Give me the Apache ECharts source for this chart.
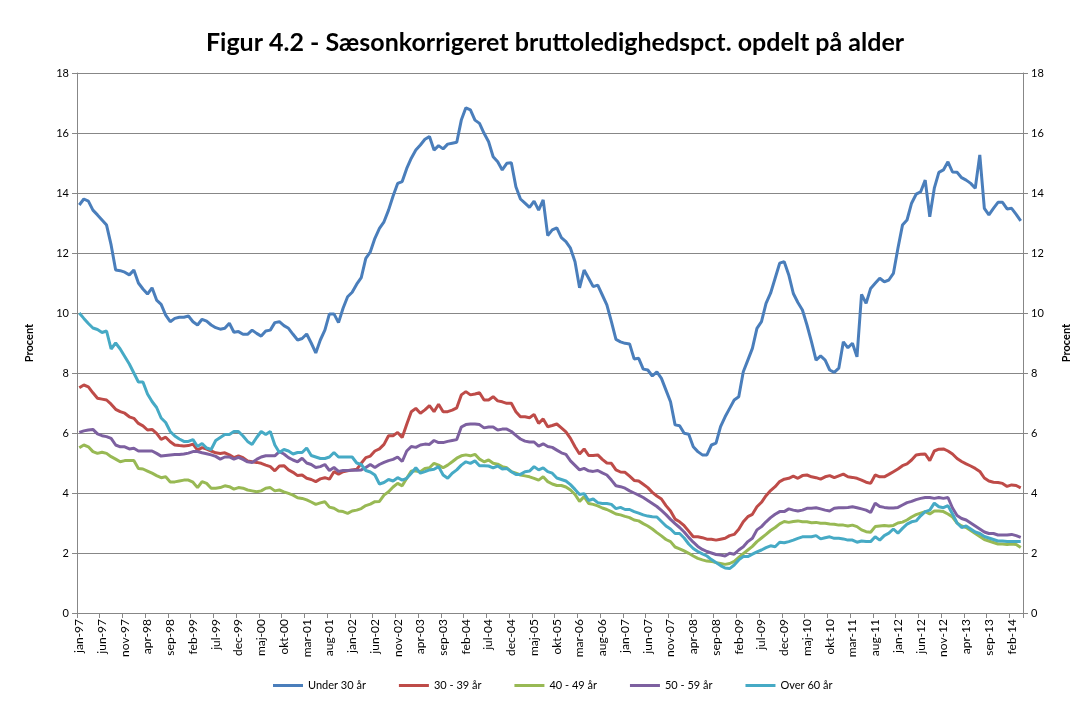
<!DOCTYPE html>
<html><head><meta charset="utf-8">
<script src="https://cdn.jsdelivr.net/npm/echarts@6/dist/echarts.min.js"></script>
<style>html,body{margin:0;padding:0;background:#fff}#c{width:1080px;height:702px}</style>
</head><body><div id="c"></div>
<script>
const monthNames = ['jan','feb','mar','apr','maj','jun','jul','aug','sep','okt','nov','dec'];
const startYear = 1997;
const nMonths = 208;
const yTicks = [0,2,4,6,8,10,12,14,16,18];
const seriesNames = ['Under 30 år','30 - 39 år','40 - 49 år','50 - 59 år','Over 60 år'];

const under30 = [
13.6,13.8,13.73,13.43,13.27,13.1,12.93,12.27,11.43,11.41,11.36,11.27,11.43,11.0,10.8,10.63,10.84,10.43,
10.29,9.93,9.71,9.82,9.86,9.86,9.9,9.71,9.6,9.79,9.73,9.6,9.51,9.46,9.49,9.66,9.36,
9.38,9.29,9.29,9.43,9.32,9.23,9.4,9.43,9.68,9.71,9.58,9.49,9.29,9.1,9.15,9.3,
9.0,8.67,9.1,9.43,9.97,9.97,9.68,10.16,10.54,10.69,10.96,11.18,11.82,12.04,12.49,12.82,13.04,13.43,13.9,
14.32,14.38,14.82,15.16,15.43,15.6,15.79,15.88,15.43,15.58,15.47,15.63,15.66,15.69,16.43,16.84,16.77,16.43,
16.32,15.99,15.71,15.21,15.04,14.77,14.99,15.01,14.21,13.8,13.66,13.52,13.73,13.43,13.77,12.58,12.77,
12.84,12.51,12.38,12.16,11.71,10.84,11.43,11.16,10.88,10.93,10.6,10.27,9.71,9.12,9.04,8.99,8.97,8.47,
8.49,8.13,8.1,7.9,8.04,7.82,7.43,7.04,6.27,6.24,5.99,5.96,5.54,5.38,5.27,5.27,5.6,5.66,
6.21,6.54,6.82,7.1,7.21,8.04,8.43,8.82,9.49,9.71,10.32,10.66,11.16,11.66,11.71,11.27,10.65,
10.35,10.1,9.6,9.04,8.43,8.57,8.43,8.1,8.02,8.16,9.04,8.84,8.99,8.54,10.62,10.32,10.82,10.99,
11.16,11.04,11.1,11.32,12.16,12.93,13.1,13.66,13.96,14.04,14.43,13.21,14.16,14.69,14.77,15.04,
14.7,14.69,14.51,14.43,14.32,14.16,15.27,13.49,13.27,13.49,13.69,13.69,13.47,13.49,13.29,13.07];

const age30_39 = [
7.51,7.6,7.54,7.34,7.16,7.13,7.1,6.96,6.79,6.71,6.66,6.54,6.49,6.32,6.24,6.1,6.12,5.99,
5.79,5.86,5.71,5.6,5.58,5.57,5.58,5.63,5.43,5.51,5.46,5.4,5.34,5.32,5.34,5.27,5.18,
5.24,5.18,5.07,5.04,5.02,4.99,4.93,4.88,4.74,4.9,4.91,4.77,4.69,4.58,4.6,4.49,
4.45,4.38,4.47,4.51,4.46,4.71,4.63,4.71,4.74,4.77,4.79,4.99,5.18,5.23,5.4,5.47,5.62,5.91,5.91,
6.02,5.85,6.29,6.71,6.82,6.66,6.77,6.91,6.71,6.96,6.71,6.71,6.76,6.84,7.27,7.38,7.27,7.3,
7.34,7.1,7.1,7.21,7.07,7.04,6.99,6.99,6.71,6.54,6.54,6.51,6.62,6.32,6.47,6.21,6.25,
6.3,6.17,6.04,5.82,5.54,5.3,5.47,5.25,5.25,5.27,5.12,5.0,4.99,4.77,4.7,4.69,4.56,4.42,
4.4,4.29,4.18,4.02,3.9,3.8,3.58,3.4,3.13,3.04,2.91,2.73,2.54,2.54,2.51,2.46,2.46,2.43,
2.46,2.49,2.58,2.62,2.79,3.04,3.21,3.29,3.54,3.69,3.91,4.08,4.21,4.38,4.46,4.49,4.56,
4.49,4.58,4.6,4.54,4.51,4.46,4.54,4.58,4.51,4.57,4.63,4.54,4.52,4.49,4.43,4.36,4.32,4.6,
4.54,4.54,4.62,4.71,4.8,4.91,4.97,5.1,5.27,5.29,5.3,5.08,5.4,5.46,5.47,5.4,
5.3,5.15,5.05,4.97,4.9,4.82,4.72,4.5,4.4,4.36,4.35,4.32,4.22,4.27,4.25,4.17];

const age40_49 = [
5.51,5.6,5.54,5.38,5.32,5.36,5.32,5.21,5.13,5.04,5.08,5.08,5.08,4.82,4.8,4.73,4.66,4.58,
4.51,4.54,4.37,4.37,4.4,4.43,4.43,4.36,4.18,4.38,4.32,4.16,4.16,4.18,4.24,4.21,4.13,
4.18,4.16,4.1,4.07,4.04,4.07,4.16,4.18,4.07,4.1,4.04,3.99,3.93,3.84,3.82,3.77,
3.7,3.62,3.67,3.71,3.53,3.49,3.4,3.38,3.32,3.4,3.43,3.48,3.58,3.63,3.71,3.72,3.93,4.04,4.2,
4.32,4.24,4.49,4.73,4.73,4.71,4.82,4.84,4.99,4.93,4.84,4.93,5.04,5.16,5.24,5.27,5.24,5.29,
5.13,5.04,5.1,4.99,4.96,4.88,4.84,4.71,4.66,4.6,4.57,4.54,4.49,4.43,4.54,4.38,4.3,
4.25,4.25,4.2,4.1,3.95,3.72,3.88,3.65,3.62,3.57,3.5,3.45,3.38,3.3,3.27,3.22,3.18,3.1,
3.07,2.98,2.9,2.8,2.68,2.57,2.45,2.38,2.2,2.14,2.07,1.99,1.9,1.82,1.77,1.73,1.72,1.68,
1.65,1.62,1.65,1.72,1.85,1.98,2.1,2.22,2.38,2.5,2.62,2.75,2.85,2.97,3.05,3.02,3.05,
3.07,3.04,3.04,3.01,3.02,2.99,2.99,2.97,2.96,2.93,2.93,2.9,2.93,2.88,2.77,2.71,2.69,2.88,
2.9,2.92,2.9,2.92,3.0,3.03,3.1,3.2,3.28,3.33,3.38,3.3,3.4,3.4,3.38,3.3,
3.2,3.0,2.9,2.85,2.75,2.65,2.55,2.45,2.4,2.35,2.3,2.3,2.28,2.3,2.28,2.18];

const age50_59 = [
6.02,6.07,6.1,6.12,5.97,5.91,5.88,5.82,5.6,5.54,5.54,5.47,5.49,5.4,5.4,5.4,5.4,5.32,
5.23,5.25,5.27,5.28,5.28,5.3,5.33,5.38,5.38,5.34,5.31,5.27,5.22,5.13,5.2,5.2,5.13,
5.19,5.12,5.04,5.02,5.12,5.2,5.24,5.24,5.24,5.38,5.3,5.18,5.1,5.04,5.16,5.0,
4.95,4.85,4.88,4.95,4.75,4.85,4.72,4.75,4.75,4.76,4.76,4.77,4.85,4.95,4.85,4.95,5.02,5.08,5.12,
5.2,5.05,5.4,5.55,5.52,5.6,5.63,5.62,5.75,5.68,5.68,5.72,5.75,5.78,6.2,6.28,6.3,6.3,
6.28,6.17,6.2,6.2,6.1,6.13,6.13,6.05,5.92,5.8,5.73,5.7,5.7,5.56,5.64,5.55,5.52,
5.43,5.34,5.29,5.07,4.92,4.77,4.82,4.74,4.72,4.75,4.67,4.6,4.43,4.24,4.21,4.16,4.07,4.0,
3.93,3.85,3.75,3.65,3.55,3.42,3.28,3.12,2.98,2.85,2.7,2.52,2.36,2.22,2.12,2.05,2.0,1.95,
1.93,1.9,1.99,1.96,2.1,2.21,2.38,2.49,2.77,2.88,3.04,3.18,3.29,3.38,3.38,3.47,3.43,
3.4,3.43,3.49,3.49,3.51,3.47,3.43,3.4,3.49,3.51,3.51,3.52,3.54,3.51,3.47,3.43,3.35,3.66,
3.55,3.52,3.5,3.5,3.52,3.6,3.68,3.72,3.78,3.82,3.85,3.85,3.82,3.85,3.82,3.85,
3.5,3.25,3.15,3.1,3.0,2.9,2.8,2.7,2.65,2.65,2.6,2.6,2.6,2.62,2.58,2.52];

const over60 = [
10.0,9.82,9.65,9.5,9.45,9.35,9.4,8.8,9.0,8.8,8.55,8.3,8.0,7.7,7.7,7.3,7.05,6.85,
6.5,6.35,6.05,5.9,5.8,5.72,5.72,5.78,5.55,5.65,5.5,5.45,5.75,5.85,5.95,5.95,6.05,
6.05,5.9,5.72,5.62,5.85,6.05,5.95,6.05,5.6,5.35,5.45,5.4,5.3,5.35,5.35,5.5,5.25,
5.2,5.15,5.15,5.2,5.35,5.2,5.2,5.2,5.2,5.0,4.95,4.75,4.7,4.6,4.3,4.35,4.45,4.4,
4.51,4.43,4.49,4.66,4.84,4.66,4.71,4.77,4.79,4.88,4.6,4.49,4.66,4.77,4.93,5.04,4.99,5.07,
4.91,4.91,4.9,4.84,4.9,4.8,4.82,4.71,4.62,4.62,4.71,4.73,4.88,4.77,4.84,4.71,4.66,
4.5,4.45,4.4,4.28,4.12,3.95,3.98,3.75,3.8,3.68,3.65,3.65,3.62,3.48,3.52,3.45,3.45,3.38,
3.33,3.27,3.23,3.21,3.2,3.05,2.9,2.8,2.65,2.65,2.5,2.3,2.15,2.05,1.97,1.9,1.78,1.68,
1.58,1.5,1.48,1.6,1.77,1.88,1.88,1.96,2.04,2.1,2.18,2.24,2.21,2.36,2.34,2.38,2.43,
2.49,2.54,2.54,2.54,2.58,2.47,2.51,2.54,2.49,2.49,2.47,2.43,2.43,2.36,2.4,2.38,2.38,2.54,
2.43,2.58,2.66,2.8,2.66,2.82,2.96,3.04,3.07,3.24,3.38,3.43,3.66,3.54,3.51,3.58,
3.3,3.0,2.85,2.9,2.8,2.7,2.65,2.55,2.5,2.45,2.4,2.4,2.38,2.38,2.38,2.38];

const categories = [];
for (let i = 0; i < nMonths; i++) {
  const y = (startYear + Math.floor(i / 12)) % 100;
  categories.push(monthNames[i % 12] + '-' + (y < 10 ? '0' + y : '' + y));
}

const colors = ['#4A7EBB', '#BE4B48', '#98B954', '#7D60A0', '#46AAC5'];
const values = [under30, age30_39, age40_49, age50_59, over60];
const FONT = 'Lato, "Liberation Sans", sans-serif';

const yAxisCommon = {
  type: 'value', min: yTicks[0], max: yTicks[yTicks.length - 1], interval: 2,
  name: 'Procent', nameLocation: 'middle',
  nameTextStyle: { fontFamily: FONT, fontWeight: 'bold', fontSize: 11, color: '#000' },
  axisLine: { show: true, lineStyle: { color: '#878787', width: 1 } },
  axisTick: { show: true, length: 5, lineStyle: { color: '#878787' } },
  axisLabel: { fontFamily: FONT, fontSize: 11, color: '#000' },
  splitLine: { show: false }
};

const chart = echarts.init(document.getElementById('c'), null, { renderer: 'canvas' });
chart.setOption({
  backgroundColor: '#fff',
  animation: false,
  title: {
    text: 'Figur 4.2 - Sæsonkorrigeret bruttoledighedspct. opdelt på alder',
    left: 550, top: 25, textAlign: 'center',
    textStyle: { fontFamily: FONT, fontWeight: 'bold', fontSize: 25, color: '#000' }
  },
  legend: {
    bottom: 6, left: 268, itemGap: 33, itemWidth: 30, itemHeight: 3, icon: 'rect',
    textStyle: { fontFamily: FONT, fontSize: 11, color: '#000' },
    data: seriesNames
  },
  grid: { left: 77, right: 57, top: 73, bottom: 89, containLabel: false },
  xAxis: {
    type: 'category', data: categories, boundaryGap: true,
    axisLine: { lineStyle: { color: '#878787', width: 1 } },
    axisTick: { show: true, interval: 4, length: 5, lineStyle: { color: '#878787' } },
    axisLabel: { interval: 4, rotate: 90, fontFamily: FONT, fontSize: 12, color: '#000', margin: 6 }
  },
  yAxis: [
    Object.assign({}, yAxisCommon, {
      position: 'left', nameGap: 42,
      splitLine: { show: true, lineStyle: { color: '#878787', width: 1 } }
    }),
    Object.assign({}, yAxisCommon, { position: 'right', nameGap: 38 })
  ],
  series: values.map((v, k) => ({
    name: seriesNames[k], type: 'line', data: v, yAxisIndex: 0,
    showSymbol: false, symbol: 'none',
    lineStyle: { color: colors[k], width: 3 },
    itemStyle: { color: colors[k] }
  }))
});
</script></body></html>
